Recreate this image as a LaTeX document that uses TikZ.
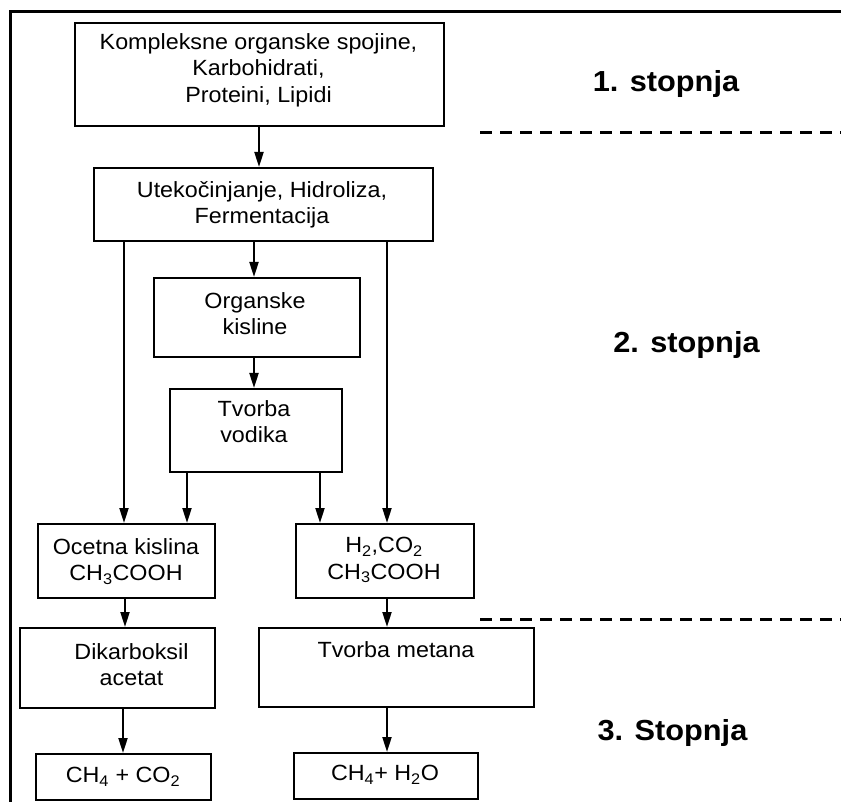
\documentclass[tikz,border=0pt]{standalone}
\usepackage{fontspec}
\setmainfont{Liberation Sans}[FakeStretch=1.06]
\usetikzlibrary{arrows.meta}
\begin{document}
\begin{tikzpicture}[x=1pt,y=-1pt,
  box/.style={draw, line width=2pt, rectangle, inner sep=0pt, anchor=north west},
  txt/.style={font=\fontsize{22}{26.5}\selectfont, align=center, anchor=north, inner sep=0pt},
  stage/.style={font=\fontsize{29}{34}\selectfont\bfseries, anchor=base, inner sep=0pt},
  arr/.style={line width=2pt, -{Triangle[length=15pt,width=9pt]}},
  sepline/.style={line width=3pt, dash pattern=on 12pt off 8pt},
  frameline/.style={line width=3pt}
]
\useasboundingbox (0,0) rectangle (841,802);
\draw[frameline] (10,802) -- (10,12) -- (841,12);
\draw[sepline] (480,133) -- (841,133);
\draw[sepline] (480,619) -- (841,619);

% boxes
\node[box, minimum width=369pt, minimum height=103pt] (b1) at (74,22) {};
\node[box, minimum width=339pt, minimum height=73pt] (b2) at (93,167) {};
\node[box, minimum width=206pt, minimum height=79pt] (b3) at (153,277) {};
\node[box, minimum width=172pt, minimum height=83pt] (b4) at (169,388) {};
\node[box, minimum width=177pt, minimum height=74pt] (b5) at (37,523) {};
\node[box, minimum width=178pt, minimum height=74pt] (b6) at (295,523) {};
\node[box, minimum width=195pt, minimum height=80pt] (b7) at (19,627) {};
\node[box, minimum width=275pt, minimum height=79pt] (b8) at (258,627) {};
\node[box, minimum width=175pt, minimum height=46pt] (b9) at (35,753) {};
\node[box, minimum width=184pt, minimum height=46pt] (b10) at (293,752) {};

% texts
\node[txt] (t1) at (258.5,33) {Kompleksne organske spojine,\\Karbohidrati,\\Proteini, Lipidi};
\node[txt] (t2) at (262,181) {Utekočinjanje, Hidroliza,\\Fermentacija};
\node[txt] (t3) at (255,292) {Organske\\kisline};
\node[txt] (t4) at (254,400) {Tvorba\\vodika};
\node[txt] (t5) at (126,538) {Ocetna kislina\\CH\textsubscript{3}COOH};
\node[txt] (t6) at (384,537) {H\textsubscript{2},CO\textsubscript{2}\\CH\textsubscript{3}COOH};
\node[txt] (t7) at (131.5,643) {Dikarboksil\\acetat};
\node[txt] (t8) at (396,641) {Tvorba metana};
\node[txt] (t9) at (123,767) {CH\textsubscript{4} + CO\textsubscript{2}};
\node[txt] (t10) at (385,765) {CH\textsubscript{4}+ H\textsubscript{2}O};

% stage labels
\node[stage] (s1) at (666,92) {1. stopnja};
\node[stage] (s2) at (686.5,353) {2. stopnja};
\node[stage] (s3) at (672.5,740) {3. Stopnja};

% columns for connectors
\coordinate (cA) at (259,0);
\coordinate (cL) at (124,0);
\coordinate (cM) at (254,0);
\coordinate (cR) at (387,0);
\coordinate (cV1) at (187,0);
\coordinate (cV2) at (320,0);
\coordinate (cO) at (125,0);
\coordinate (cD) at (123,0);

% connectors
\draw[arr] (b1.south -| cA) -- (b2.north -| cA);
\draw[arr] (b2.south -| cL) -- (b5.north -| cL);
\draw[arr] (b2.south -| cM) -- (b3.north -| cM);
\draw[arr] (b2.south -| cR) -- (b6.north -| cR);
\draw[arr] (b3.south -| cM) -- (b4.north -| cM);
\draw[arr] (b4.south -| cV1) -- (b5.north -| cV1);
\draw[arr] (b4.south -| cV2) -- (b6.north -| cV2);
\draw[arr] (b5.south -| cO) -- (b7.north -| cO);
\draw[arr] (b6.south -| cR) -- (b8.north -| cR);
\draw[arr] (b7.south -| cD) -- (b9.north -| cD);
\draw[arr] (b8.south -| cR) -- (b10.north -| cR);
\end{tikzpicture}
\end{document}
